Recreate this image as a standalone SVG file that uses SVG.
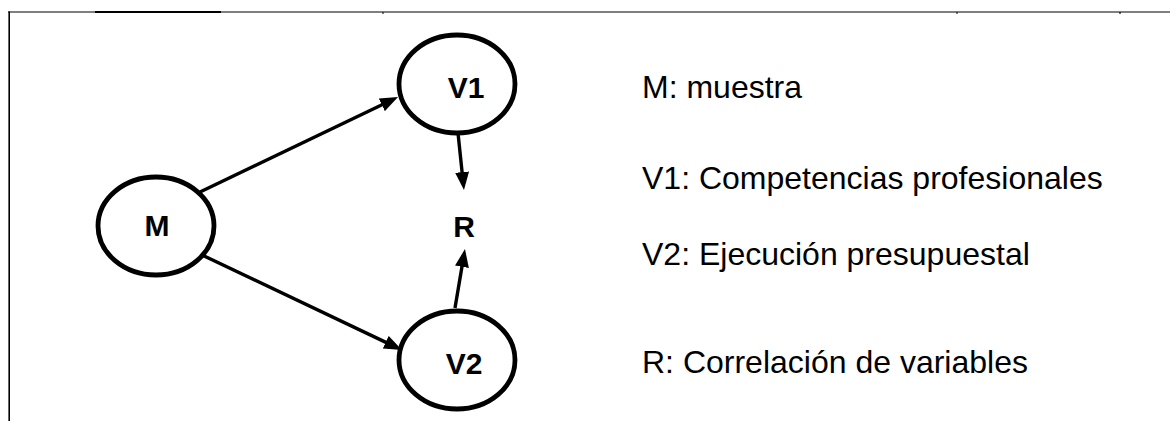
<svg xmlns="http://www.w3.org/2000/svg" width="1170" height="421" viewBox="0 0 1170 421">
  <style>
    .node { fill: #ffffff; stroke: #000000; stroke-width: 4.8; }
    .nlabel { font-family: "Liberation Sans", Arial, sans-serif; font-weight: bold; font-size: 30px; fill: #000000; text-anchor: middle; }
    .legend { font-family: "Liberation Sans", Arial, sans-serif; font-size: 32px; fill: #000000; }
    .edge { stroke: #000000; stroke-width: 3.4; fill: none; marker-end: url(#arrow); }
    .frame { stroke: #000000; fill: none; }
  </style>
  <defs>
    <marker id="arrow" viewBox="0 0 18 14" refX="2" refY="7" markerWidth="18" markerHeight="14" markerUnits="userSpaceOnUse" orient="auto">
      <path d="M0,0 L18,7 L0,14 z" fill="#000000"/>
    </marker>
  </defs>
  <rect width="1170" height="421" fill="#ffffff"/>
  <g id="frame">
    <line class="frame" x1="8" y1="12" x2="1170" y2="12" stroke-width="1.2"/>
    <line class="frame" x1="95" y1="12" x2="221" y2="12" stroke-width="2"/>
    <line class="frame" x1="9.2" y1="11.4" x2="9.2" y2="421" stroke-width="1.6"/>
    <line class="frame" x1="383" y1="12" x2="383" y2="14" stroke-width="1"/>
    <line class="frame" x1="957" y1="12" x2="957" y2="14" stroke-width="1"/>
    <line class="frame" x1="1120" y1="12" x2="1120" y2="14" stroke-width="1.2"/>
  </g>
  <g id="connectors">
    <line class="edge" x1="200" y1="192" x2="383.6" y2="104.0"/>
    <line class="edge" x1="202" y1="255" x2="387.5" y2="343.1"/>
    <line class="edge" x1="458" y1="133" x2="462.3" y2="174.1"/>
    <line class="edge" x1="455" y1="308" x2="462.3" y2="264.8"/>
  </g>
  <g id="node-M">
    <ellipse class="node" cx="156" cy="226" rx="58" ry="49"/>
    <text class="nlabel" x="157" y="235.5">M</text>
  </g>
  <g id="node-V1">
    <ellipse class="node" cx="457" cy="84" rx="58" ry="49"/>
    <text class="nlabel" x="466" y="97.5">V1</text>
  </g>
  <g id="node-V2">
    <ellipse class="node" cx="457" cy="360" rx="58" ry="49"/>
    <text class="nlabel" x="464" y="373.5">V2</text>
  </g>
  <g id="node-R">
    <text class="nlabel" x="464" y="236.5">R</text>
  </g>
  <g id="legend">
    <text class="legend" x="642" y="98">M: muestra</text>
    <text class="legend" x="642" y="189">V1: Competencias profesionales</text>
    <text class="legend" x="642" y="265">V2: Ejecución presupuestal</text>
    <text class="legend" x="642" y="373">R: Correlación de variables</text>
  </g>
</svg>
